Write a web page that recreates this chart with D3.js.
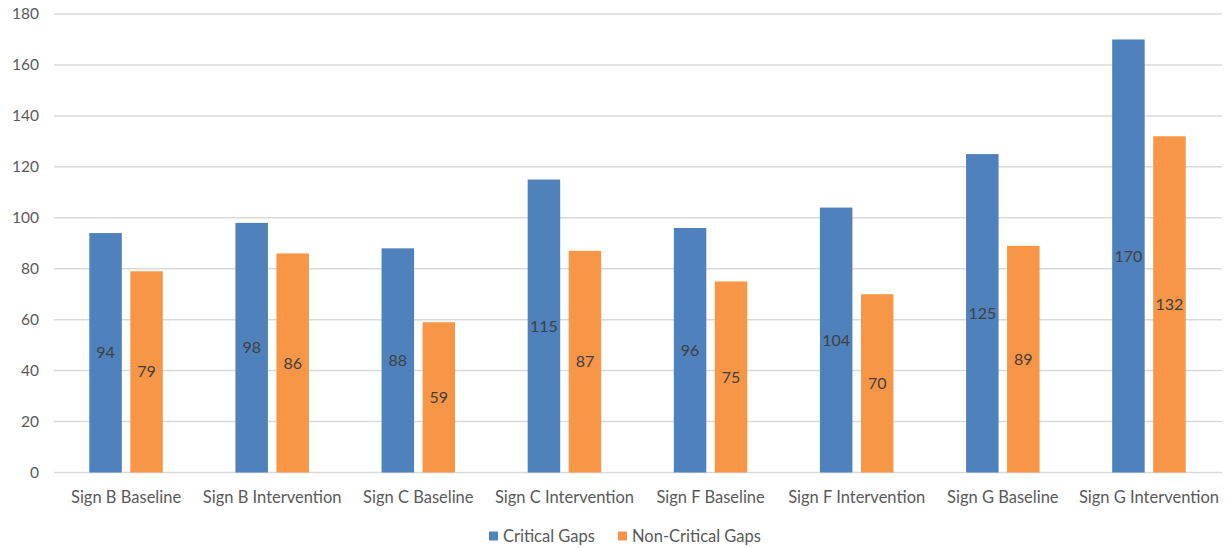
<!DOCTYPE html>
<html><head><meta charset="utf-8">
<script src="https://cdn.jsdelivr.net/npm/d3@7"></script>
<style>body{margin:0;background:#fff}svg{display:block;font-family:Lato,"Open Sans",sans-serif}</style>
</head><body>
<svg id="c" width="1225" height="548"></svg>
<script>
const categories = ["Sign B Baseline","Sign B Intervention","Sign C Baseline","Sign C Intervention","Sign F Baseline","Sign F Intervention","Sign G Baseline","Sign G Intervention"];
const seriesNames = ["Critical Gaps","Non-Critical Gaps"];
const critical = [94,98,88,115,96,104,125,170];
const nonCritical = [79,86,59,87,75,70,89,132];
const yTicks = [0,20,40,60,80,100,120,140,160,180];
const colors = ["#4F81BD","#F79646"];

const svg = d3.select("#c");
const L = 53, R = 1222, T = 14, B = 472.5;
const x = d3.scaleBand().domain(categories).range([L,R]);
const y = d3.scaleLinear().domain([0,180]).range([B,T]);
const bw = 32.5, gap = 8.5;

// gridlines
svg.append("g").selectAll("line").data(yTicks).join("line")
  .attr("x1",L+1).attr("x2",R).attr("y1",d=>y(d)).attr("y2",d=>y(d))
  .attr("stroke","#d9d9d9").attr("stroke-width",1.5);

// y labels
const ya = svg.append("g").attr("transform",`translate(${L-14},0)`)
  .call(d3.axisLeft(y).tickValues(yTicks).tickSize(0).tickPadding(0));
ya.select(".domain").remove();
ya.selectAll("text").attr("fill","#595959").style("font-size","15.5px").style("font-family","Lato,'Open Sans',sans-serif");

// x labels
const xa = svg.append("g").attr("transform",`translate(0,${B+24.5})`)
  .call(d3.axisBottom(x).tickSize(0).tickPadding(0));
xa.select(".domain").remove();
xa.selectAll("text").attr("fill","#595959").style("font-size","16.5px").style("font-family","Lato,'Open Sans',sans-serif")
  .attr("dy","0.35em");

const series = [critical, nonCritical];
series.forEach((vals,si)=>{
  const g = svg.append("g");
  const off = si===0 ? -gap/2-bw : gap/2;
  g.selectAll("rect").data(vals).join("rect")
    .attr("x",(d,i)=>x(categories[i])+x.bandwidth()/2+off)
    .attr("y",d=>y(d)).attr("width",bw).attr("height",d=>B-y(d))
    .attr("fill",colors[si]);
  g.selectAll("text").data(vals).join("text")
    .attr("x",(d,i)=>x(categories[i])+x.bandwidth()/2+off+bw/2)
    .attr("y",d=>(y(d)+B)/2).attr("dy","0.35em").attr("text-anchor","middle")
    .attr("fill","#404040").style("font-size","16px").text(d=>d);
});

// legend
const lg = svg.append("g");
const lx = [489, 618];
seriesNames.forEach((n,i)=>{
  lg.append("rect").attr("x",lx[i]).attr("y",531.5).attr("width",9).attr("height",9).attr("fill",colors[i]);
  lg.append("text").attr("x",lx[i]+14).attr("y",536).attr("dy","0.35em").attr("fill","#595959")
    .style("font-size","16.5px").text(n);
});
</script>
</body></html>
